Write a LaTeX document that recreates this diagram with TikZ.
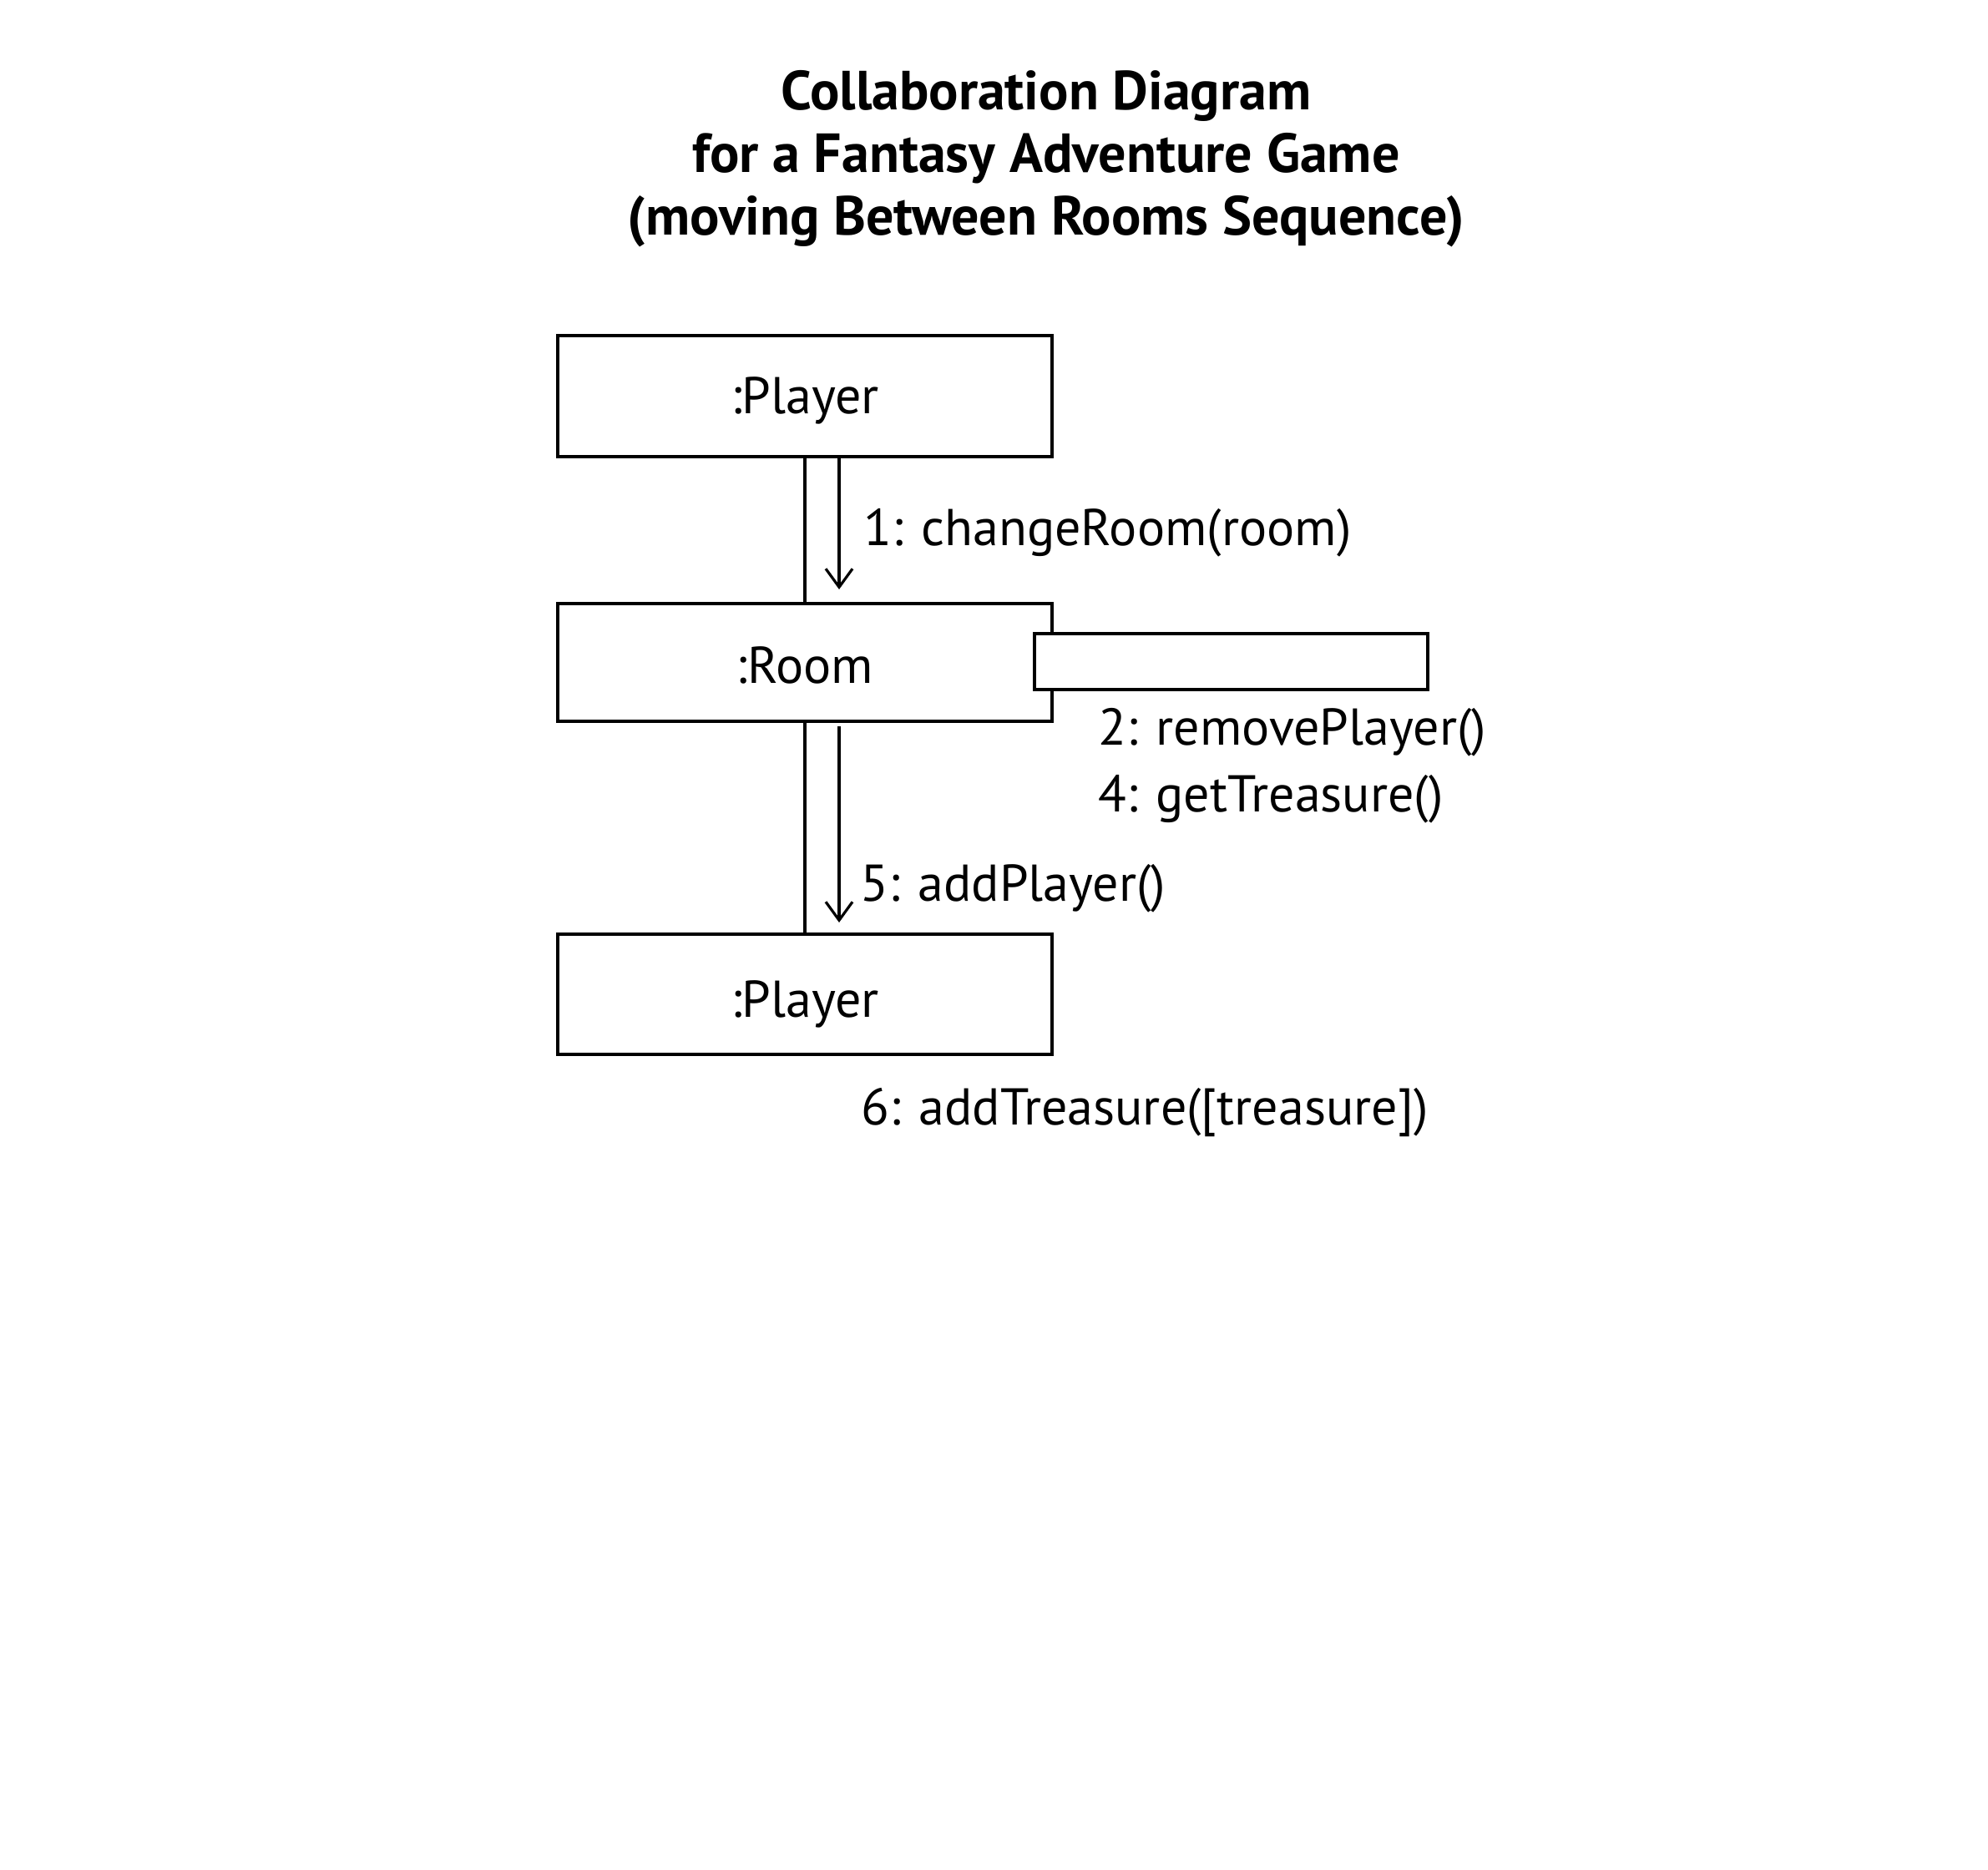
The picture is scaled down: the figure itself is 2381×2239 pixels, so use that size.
\documentclass[tikz,border=0pt]{standalone}
\usepackage{fontspec}
\setmainfont{PT Sans}
\usetikzlibrary{arrows.meta}
\begin{document}
\begin{tikzpicture}[x=1pt,y=-1pt,
  obj/.style={draw, line width=4pt, fill=white, minimum width=592pt, inner sep=0pt},
  lbl/.style={anchor=base west, inner sep=0pt, font=\fontsize{62}{72}\selectfont},
  blbl/.style={anchor=base, inner sep=0pt, font=\fontsize{62}{72}\selectfont},
  conn/.style={line width=3.2pt},
  msg/.style={line width=3.2pt, -{Straight Barb[length=22pt,width=32pt,line width=3.2pt]}}]
\useasboundingbox (0,0) rectangle (2381,2239);
\node[anchor=base, align=center, font=\bfseries\fontsize{66}{75}\selectfont, inner sep=0pt] (title) at (1253,281)
  {Collaboration Diagram\\for a Fantasy Adventure Game\\(moving Between Rooms Sequence)};
\node[obj, minimum height=145pt] (p1) at (964,474.5) {};
\node[obj, minimum height=141pt] (room) at (964,793.5) {};
\node[obj, minimum height=144pt] (p2) at (964,1191) {};
\node[obj, minimum width=471pt, minimum height=67pt] (self) at (1474.5,792.5) {};
\node[blbl] (p1t) at (964,495) {:Player};
\node[blbl] (roomt) at (964,818) {:Room};
\node[blbl] (p2t) at (964,1218) {:Player};
\draw[conn] (p1.south) -- (room.north);
\draw[conn] (room.south) -- (p2.north);
\coordinate (a1s) at (1005,547);
\coordinate (a1e) at (1005,706);
\coordinate (a2s) at (1005,870);
\coordinate (a2e) at (1005,1105);
\draw[msg] (a1s) -- (a1e);
\draw[msg] (a2s) -- (a2e);
\node[lbl] (m1) at (1034,653) {1: changeRoom(room)};
\node[lbl] (m2) at (1315,892) {2: removePlayer()};
\node[lbl] (m4) at (1315,972) {4: getTreasure()};
\node[lbl] (m5) at (1030,1079) {5: addPlayer()};
\node[lbl] (m6) at (1031,1347) {6: addTreasure([treasure])};
\end{tikzpicture}
\end{document}
